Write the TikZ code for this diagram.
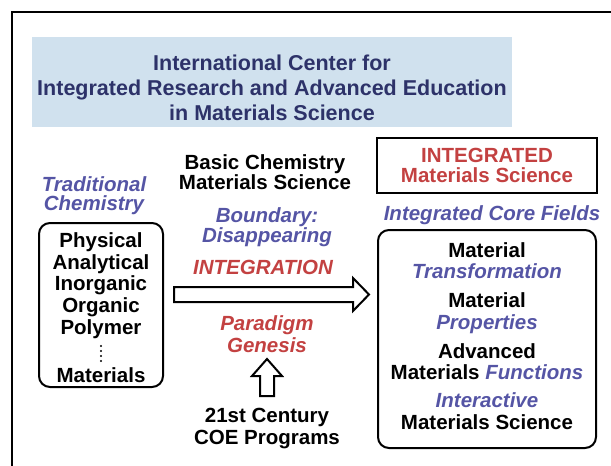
\documentclass[tikz,border=0pt]{standalone}
\usepackage{fontspec}
\setmainfont{Liberation Sans}
\definecolor{titlefill}{RGB}{208,225,238}
\definecolor{navy}{RGB}{45,50,105}
\definecolor{blueit}{RGB}{85,85,165}
\definecolor{redit}{RGB}{195,65,65}
\tikzset{
  txt/.style={anchor=base, inner sep=0pt, font=\fontsize{20.5}{20}\selectfont\bfseries},
  bk/.style={txt, text=black},
  bl/.style={txt, text=blueit, font=\fontsize{20.5}{20}\selectfont\bfseries\itshape},
  rd/.style={txt, text=redit, font=\fontsize{20.5}{20}\selectfont\bfseries\itshape},
  rdup/.style={txt, text=redit},
  ttl/.style={anchor=base, inner sep=0pt, text=navy, font=\fontsize{21.5}{25}\selectfont\bfseries},
  roundbox/.style={draw=black, line width=2pt, rounded corners=11pt},
  blockarrow/.style={draw=black, line width=2pt, fill=white, line join=miter},
  dotmark/.style={fill=black},
}
\begin{document}
\begin{tikzpicture}[x=1pt, y=-1pt]
\useasboundingbox (0,0) rectangle (611,466);
% outer frame (left and top edges visible)
\draw[line width=2.5pt] (12,470) -- (12,12) -- (615,12);
% title
\node[fill=titlefill, inner sep=0pt, minimum width=480pt, minimum height=90pt, anchor=north west] (tbox) at (32,37) {};
\node[ttl] (t1) at (272,70) {International Center for};
\node[ttl] (t2) at (272,95) {Integrated Research and Advanced Education};
\node[ttl] (t3) at (272,120) {in Materials Science};
% left
\node[bl] (trad1) at (94,191) {Traditional};
\node[bl] (trad2) at (94,210) {Chemistry};
\draw[roundbox] (39,223) rectangle (163,387);
\node[bk] (l1) at (101,247) {Physical};
\node[bk] (l2) at (101,269) {Analytical};
\node[bk] (l3) at (101,290) {Inorganic};
\node[bk] (l4) at (101,312) {Organic};
\node[bk] (l5) at (101,334) {Polymer};
\foreach \yy in {346,351,356,361} \fill[dotmark] (101,\yy) circle (1.2pt);
\node[bk] (l6) at (101,382) {Materials};
% middle
\node[bk] (m1) at (265,169) {Basic Chemistry};
\node[bk] (m2) at (265,189) {Materials Science};
\node[bl] (b1) at (267,222) {Boundary:};
\node[bl] (b2) at (267,242) {Disappearing};
\node[rd] (integ) at (263,274) {INTEGRATION};
\node[rd] (p1) at (267,330) {Paradigm};
\node[rd] (p2) at (267,352) {Genesis};
\node[bk] (c1) at (267,422) {21st Century};
\node[bk] (c2) at (267,444) {COE Programs};
% horizontal block arrow
\draw[blockarrow] (174,287) -- (353,287) -- (353,278) -- (369,294.5) -- (353,311) -- (353,302) -- (174,302) -- cycle;
% vertical block arrow
\draw[blockarrow] (260,396) -- (260,376) -- (252,376) -- (267,359) -- (282,376) -- (274,376) -- (274,396) -- cycle;
% right
\draw[line width=2pt] (377,138) rectangle (597,193);
\node[rdup] (i1) at (487,162) {INTEGRATED};
\node[rdup] (i2) at (487,182) {Materials Science};
\node[bl] (core) at (492,220) {Integrated Core Fields};
\draw[roundbox] (378,230) rectangle (596,448);
\node[bk] (r1) at (487,257) {Material};
\node[bl] (r2) at (487,278) {Transformation};
\node[bk] (r3) at (487,307) {Material};
\node[bl] (r4) at (487,329) {Properties};
\node[bk] (r5) at (487,358) {Advanced};
\node[txt] (r6) at (487,379) {Materials \textcolor{blueit}{\itshape Functions}};
\node[bl] (r7) at (487,407) {Interactive};
\node[bk] (r8) at (487,429) {Materials Science};
\end{tikzpicture}
\end{document}
